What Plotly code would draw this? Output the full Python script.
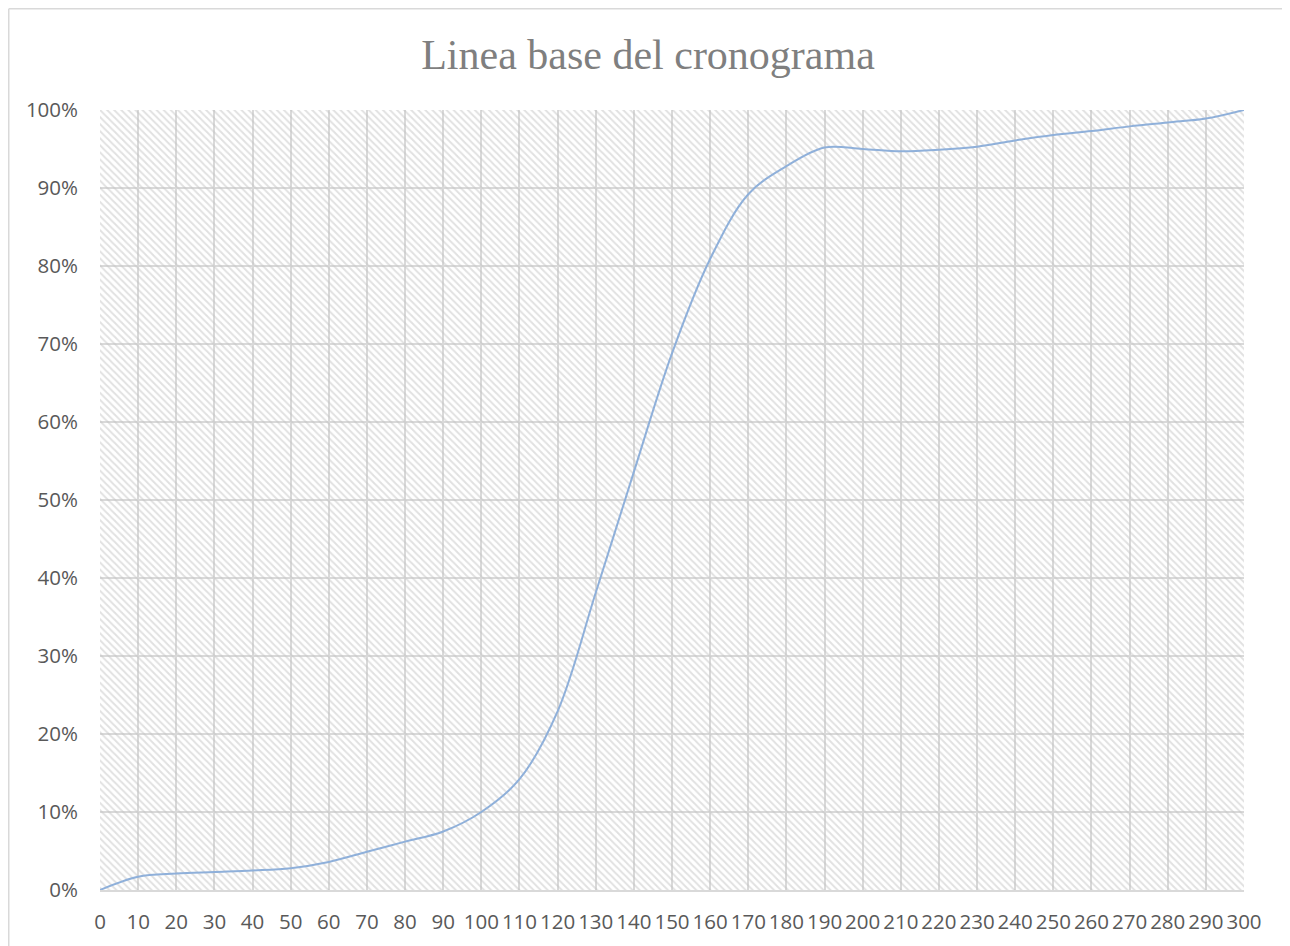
import plotly.graph_objects as go

# Data
dias = [0, 10, 20, 30, 40, 50, 60, 70, 80, 90, 100, 110, 120, 130, 140, 150,
        160, 170, 180, 190, 200, 210, 220, 230, 240, 250, 260, 270, 280, 290, 300]
avance = [0.000, 0.017, 0.021, 0.023, 0.025, 0.028, 0.036, 0.049, 0.062, 0.075,
          0.100, 0.142, 0.229, 0.381, 0.536, 0.688, 0.809, 0.892, 0.928, 0.952,
          0.950, 0.947, 0.949, 0.953, 0.961, 0.968, 0.973, 0.979, 0.984, 0.989, 1.000]
titulo = "Linea base del cronograma"

x_min, x_max = 0, 300
y_min, y_max = 0, 1

# page body has an 8px margin, so the figure is sized to fill the rest
W, H = 1282, 938
ML, MT = 92, 102
PW, PH = 1144, 780
MR = W - ML - PW
MB = H - MT - PH

fig = go.Figure()

# hatched plot-area background
fig.add_trace(go.Scatter(
    x=[x_min, x_max, x_max, x_min, x_min],
    y=[y_min, y_min, y_max, y_max, y_min],
    mode="none", fill="toself",
    fillcolor="rgba(0,0,0,0)",
    fillpattern=dict(shape="\\", fgcolor="#c4c4c4", bgcolor="rgba(0,0,0,0)",
                     size=5, solidity=0.4),
    hoverinfo="skip", showlegend=False,
))

fig.add_trace(go.Scatter(
    x=dias, y=avance, mode="lines",
    line=dict(color="#8fb0da", width=2, shape="spline", smoothing=1.0),
    showlegend=False,
))

tick_font = dict(family="Open Sans", size=20.5, color="#595959")

fx = lambda px: (px - ML) / PW          # figure px -> paper x
fy = lambda py: (H - MB - py) / PH      # figure px -> paper y

fig.update_layout(
    width=W, height=H,
    margin=dict(l=ML, r=MR, t=MT, b=MB),
    paper_bgcolor="white", plot_bgcolor="white",
    title=dict(text=titulo, x=640 / W, xanchor="center",
               y=1 - 46 / H, yanchor="middle",
               font=dict(family="Liberation Serif", size=42, color="#7f7f7f")),
    xaxis=dict(range=[x_min, x_max], dtick=10, tick0=0, tickangle=0,
               showgrid=True, gridcolor="#d9d9d9", gridwidth=2,
               zeroline=False, showline=True, linecolor="#d9d9d9", linewidth=2,
               mirror=False, ticks="", tickfont=tick_font,
               ticklabelstandoff=12, fixedrange=True),
    yaxis=dict(range=[y_min, y_max], dtick=0.1, tick0=0, tickformat=".0%",
               showgrid=True, gridcolor="#d9d9d9", gridwidth=2,
               zeroline=False, showline=False, ticks="", tickfont=tick_font,
               ticklabelstandoff=21, fixedrange=True),
    shapes=[
        # chart-area border (top and left visible)
        dict(type="line", xref="paper", yref="paper",
             x0=fx(0.75), x1=fx(0.75), y0=fy(H + 10), y1=fy(0.75),
             line=dict(color="#d9d9d9", width=1.5)),
        dict(type="line", xref="paper", yref="paper",
             x0=fx(0.75), x1=fx(W + 10), y0=fy(0.75), y1=fy(0.75),
             line=dict(color="#d9d9d9", width=1.5)),
    ],
)

fig.write_html("out.html")
